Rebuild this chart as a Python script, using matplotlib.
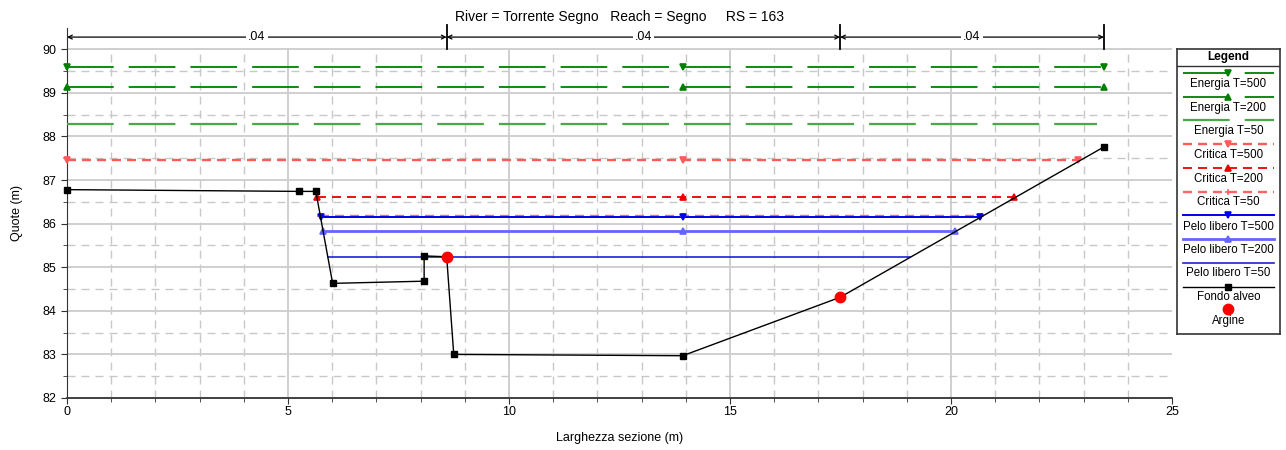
import matplotlib
matplotlib.use("Agg")
import matplotlib.pyplot as plt
import numpy as np

plt.rcParams['font.family'] = ['Liberation Sans', 'DejaVu Sans']

# ---------------- data ----------------
title = "River = Torrente Segno   Reach = Segno     RS = 163"
xlabel = "Larghezza sezione (m)"
ylabel = "Quote (m)"

ground_sta = [0.0, 5.25, 5.63, 6.01, 8.08, 8.08, 8.59, 8.75, 13.93, 17.49, 23.46]
ground_elv = [86.78, 86.74, 86.74, 84.63, 84.68, 85.26, 85.24, 83.00, 82.97, 84.31, 87.76]
levee_sta = [8.59, 17.49]
levee_elv = [85.24, 84.31]

bank_sta = [0.0, 8.59, 17.49, 23.46]
n_values = [".04", ".04", ".04"]

# profiles: name, elevation, left station, right station, marker stations
prof_names = ["Energia T=500", "Energia T=200", "Energia T=50",
              "Critica T=500", "Critica T=200", "Critica T=50",
              "Pelo libero T=500", "Pelo libero T=200", "Pelo libero T=50"]
prof_elev = [89.59, 89.13, 88.29, 87.45, 86.61, 86.17, 86.15, 85.83, 85.24]
prof_left = [0.0, 0.0, 0.0, 0.0, 5.655, 5.73, 5.736, 5.79, 5.90]
prof_right = [23.46, 23.46, 23.30, 22.88, 21.42, 20.68, 20.66, 20.10, 19.07]
prof_mark_sta = [[0.0, 13.93, 23.46], [0.0, 13.93, 23.46], [],
                 [0.0, 13.93, 22.88], [5.655, 13.93, 21.42], [5.73, 13.93, 20.68],
                 [5.736, 13.93, 20.66], [5.79, 13.93, 20.10], []]

# ---------------- styles ----------------
PX = 0.72  # points per pixel at dpi 100
def dash(on_px, off_px, lw):
    return (0, (on_px * PX / lw, off_px * PX / lw))

styles = [
    dict(color='#008000', lw=1.3, ls=dash(46.7, 15, 1.3), marker='v', ms=5),
    dict(color='#008000', lw=1.3, ls=dash(46.7, 15, 1.3), marker='^', ms=5),
    dict(color='#4aa84a', lw=1.6, ls=dash(46.7, 15, 1.6), marker=None, ms=0),
    dict(color='#ff5a5a', lw=1.7, ls=dash(9, 6, 1.7), marker='v', ms=5),
    dict(color='#ee0000', lw=1.3, ls=dash(9, 6, 1.3), marker='^', ms=5),
    dict(color='#ff6464', lw=1.7, ls=dash(9, 6, 1.7), marker='+', ms=5),
    dict(color='#0000ee', lw=1.4, ls='-', marker='v', ms=5),
    dict(color='#6464ff', lw=2.0, ls='-', marker='^', ms=5),
    dict(color='#2020dd', lw=1.2, ls='-', marker=None, ms=0),
]

fig = plt.figure(figsize=(12.86, 4.50), dpi=100)
ax = fig.add_axes([67/1286, 1 - 398/450, (1172-67)/1286, (398-27.5)/450])

ax.set_xlim(0, 25)
ax.set_ylim(82, 90.5)

# grid (only up to 90)
gcol = '#c8c8c8'
for xv in range(1, 25):
    if xv % 5 == 0:
        ax.plot([xv, xv], [82, 90], color='#cfcfcf', lw=1.4, zorder=0)
    else:
        ax.plot([xv, xv], [82, 90], color=gcol, lw=1.0, ls=dash(8, 6, 1.0), zorder=0)
for yv in np.arange(82.5, 90.01, 0.5):
    if abs(yv - round(yv)) < 1e-6:
        ax.plot([0, 25], [yv, yv], color='#cfcfcf', lw=1.4, zorder=0)
    else:
        ax.plot([0, 25], [yv, yv], color=gcol, lw=1.0, ls=dash(8, 6, 1.0), zorder=0)

# profiles
for i in range(len(prof_names)):
    st = styles[i]
    ax.plot([prof_left[i], prof_right[i]], [prof_elev[i], prof_elev[i]],
            color=st['color'], lw=st['lw'], ls=st['ls'], zorder=3)
    if st['marker'] and prof_mark_sta[i]:
        ax.plot(prof_mark_sta[i], [prof_elev[i]] * len(prof_mark_sta[i]),
                ls='none', marker=st['marker'], color=st['color'], ms=st['ms'],
                mew=1.2, zorder=4, clip_on=False)

# ground
ax.plot(ground_sta, ground_elv, color='black', lw=1.0, marker='s', ms=4.5, zorder=5, clip_on=False)
ax.plot(levee_sta, levee_elv, ls='none', marker='o', color='#ff0000', ms=7.5, zorder=6)

# Manning n annotations
yann = 90.28
for i in range(len(n_values)):
    ax.annotate('', xy=(bank_sta[i], yann), xytext=(bank_sta[i+1], yann),
                arrowprops=dict(arrowstyle='<->', color='black', lw=0.9,
                                shrinkA=0, shrinkB=0, mutation_scale=7),
                annotation_clip=False)
    ax.text((bank_sta[i] + bank_sta[i+1]) / 2, yann, n_values[i], ha='center', va='center',
            fontsize=9, bbox=dict(facecolor='white', edgecolor='none', pad=1.5), zorder=7)
for b in bank_sta[1:]:
    ax.plot([b, b], [90.0, 90.55], color='black', lw=1.3, clip_on=False, zorder=7)

# axes cosmetics
for s in ['top', 'right']:
    ax.spines[s].set_visible(False)
ax.spines['left'].set_color('#333333')
ax.spines['bottom'].set_color('#333333')
ax.spines['bottom'].set_linewidth(1.3)
ax.set_xticks([0, 5, 10, 15, 20, 25])
ax.set_xticks([v for v in range(1, 25) if v % 5], minor=True)
ax.set_yticks(list(range(82, 91)))
ax.set_yticks([v + 0.5 for v in range(82, 90)], minor=True)
ax.tick_params(axis='both', which='major', direction='out', length=4, labelsize=9, color='#333333')
ax.tick_params(axis='x', which='major', pad=2)
ax.tick_params(axis='both', which='minor', direction='out', length=3, color='#333333')
ax.set_xlabel(xlabel, fontsize=9, labelpad=10)
ax.set_ylabel(ylabel, fontsize=9, labelpad=14)
fig.text(0.5 * (67 + 1172) / 1286, 1 - 17/450, title, ha='center', va='center', fontsize=10)

# ---------------- legend (manual) ----------------
lx0, ly0, lw_, lh_ = 1177, 49.3, 103, 285
lax = fig.add_axes([lx0/1286, 1 - (ly0 + lh_)/450, lw_/1286, lh_/450])
lax.set_xlim(0, lw_)
lax.set_ylim(lh_, 0)
lax.set_xticks([]); lax.set_yticks([])
for s in lax.spines.values():
    s.set_color('#333333'); s.set_linewidth(1.2)
lax.text(lw_/2, 57 - ly0, 'Legend', ha='center', va='center', fontsize=8.5, fontweight='bold')
lax.plot([0, lw_], [65.5 - ly0, 65.5 - ly0], color='#333333', lw=1.0)
line_y = [72.7, 97.3, 120.3, 144.3, 168.3, 192, 215, 239.3, 262.7, 286.7]
text_y = [84.3, 108.3, 131, 155, 178.7, 202.3, 227, 250.3, 273.3, 297.3]
for i in range(len(prof_names)):
    st = styles[i]
    yy = line_y[i] - ly0
    lax.plot([6, 97], [yy, yy], color=st['color'], lw=st['lw'], ls=st['ls'])
    if st['marker']:
        lax.plot([51], [yy], marker=st['marker'], color=st['color'], ms=st['ms'], mew=1.2)
    lax.text(lw_/2, text_y[i] - ly0, prof_names[i], ha='center', va='center', fontsize=8.3)
yy = line_y[-1] - ly0
lax.plot([6, 97], [yy, yy], color='black', lw=1.0)
lax.plot([51], [yy], marker='s', color='black', ms=4.5)
lax.text(lw_/2, text_y[-1] - ly0, 'Fondo alveo', ha='center', va='center', fontsize=8.3)
lax.plot([51], [309.3 - ly0], marker='o', color='#ff0000', ms=7.5)
lax.text(lw_/2, 321 - ly0, 'Argine', ha='center', va='center', fontsize=8.3)

fig.savefig('out.png', dpi=100)
